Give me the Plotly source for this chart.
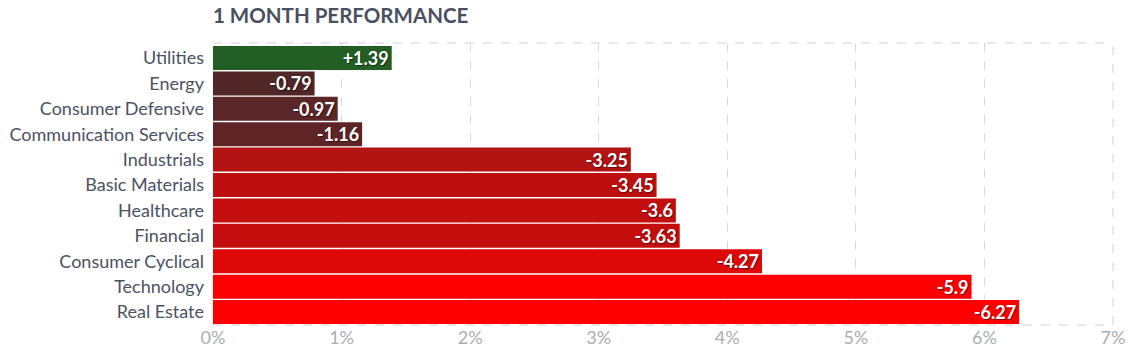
import plotly.graph_objects as go

categories = ["Utilities", "Energy", "Consumer Defensive", "Communication Services",
              "Industrials", "Basic Materials", "Healthcare", "Financial",
              "Consumer Cyclical", "Technology", "Real Estate"]
values = [1.39, -0.79, -0.97, -1.16, -3.25, -3.45, -3.6, -3.63, -4.27, -5.9, -6.27]
colors = ["#235f25", "#512627", "#5a2627", "#5f2426", "#b31313", "#be0f0f",
          "#c40e0e", "#c40e0e", "#dd0808", "#ff0000", "#ff0000"]
tick_vals = [0, 1, 2, 3, 4, 5, 6, 7]
tick_text = [f"{t}%" for t in tick_vals]

lengths = [abs(v) for v in values]
labels = [f"{v:+g}" for v in values]

fig = go.Figure(go.Bar(
    x=lengths, y=categories, orientation="h",
    marker=dict(color=colors, line=dict(width=0)),
    text=labels, textposition="inside", insidetextanchor="end",
    textfont=dict(family="Lato", size=18, color="white", weight="bold",
                  shadow="1px 1px 1px rgba(0,0,0,0.5)"),
    constraintext="none", cliponaxis=False,
    hoverinfo="skip",
))

border = dict(color="#cfd1d6", width=1, dash="dash")
fig.add_shape(type="line", xref="x domain", yref="y domain", x0=0, x1=1, y0=1, y1=1, line=border, layer="below")
fig.add_shape(type="line", xref="x domain", yref="y domain", x0=1, x1=1, y0=0, y1=1, line=border, layer="below")
fig.add_shape(type="line", xref="x domain", yref="y domain", x0=0, x1=1, y0=0, y1=0, line=border, layer="below")

fig.update_layout(
    width=1139, height=353,
    margin=dict(l=213, r=26, t=43, b=28),
    paper_bgcolor="white", plot_bgcolor="white",
    bargap=0.055,
    showlegend=False,
    title=dict(text="1 MONTH PERFORMANCE", x=213/1139, xanchor="left",
               y=1 - 16/353, yanchor="middle",
               font=dict(family="Lato", size=20.5, color="#4a5060", weight="bold")),
    xaxis=dict(range=[0, 7], tickvals=tick_vals, ticktext=tick_text,
               showgrid=True, gridcolor="#d7d9dd", griddash="dash", gridwidth=1,
               zeroline=False, showline=False, ticks="", automargin=False,
               tickfont=dict(family="Lato", size=18, color="#a9adb4")),
    yaxis=dict(range=[10.51, -0.59], showgrid=False, zeroline=False, showline=False,
               ticks="", ticklabelstandoff=8, automargin=False,
               tickfont=dict(family="Lato", size=18, color="#4b5263")),
    font=dict(family="Lato"),
)

fig.write_html("out.html")
